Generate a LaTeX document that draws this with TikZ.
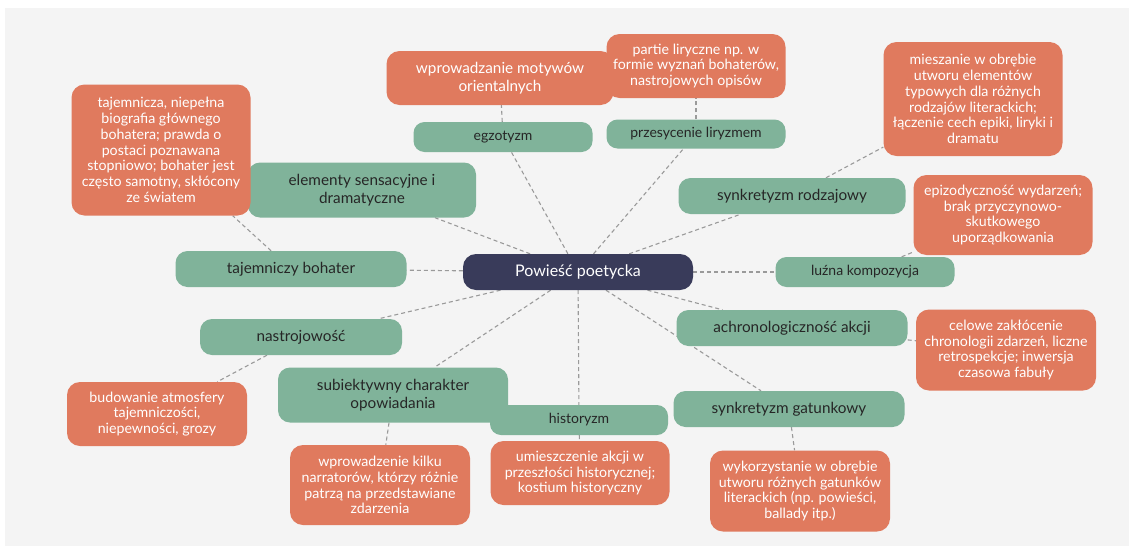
\documentclass[tikz,border=0pt]{standalone}
\usepackage{fontspec}
\setmainfont{Lato}
\usepackage{tikz}
\usepackage{xcolor}
\usetikzlibrary{positioning}
\definecolor{bgcol}{HTML}{F4F4F4}
\definecolor{greencol}{HTML}{80B39A}
\definecolor{orangecol}{HTML}{E07A5E}
\definecolor{navycol}{HTML}{393B5A}
\definecolor{textdark}{HTML}{262626}
\definecolor{linecol}{HTML}{9A9A9A}
\pgfdeclarelayer{background}
\pgfsetlayers{background,main}

\begin{document}
\begin{tikzpicture}[x=1pt,y=1pt]
\tikzstyle{every node}+=[inner sep=0pt, align=center]
\tikzstyle{topic}=[fill=navycol, text=white, rounded corners=13pt, font=\fontsize{16}{19}\selectfont]
\tikzstyle{feature}=[fill=greencol, text=textdark, rounded corners=12pt, font=\fontsize{15.3}{18.3}\selectfont]
\tikzstyle{smallfeature}=[feature, rounded corners=11pt, font=\fontsize{14}{16}\selectfont]
\tikzstyle{detail}=[fill=orangecol, text=white, rounded corners=13pt, font=\fontsize{14.2}{15.8}\selectfont]
\tikzstyle{link}=[draw=linecol, line width=1.1pt, dash pattern=on 4pt off 3pt]
\useasboundingbox (0,0) rectangle (1129,-546);
\begin{pgfonlayer}{background}
\fill [bgcol] (5,-8) rectangle (1129,-546);
\end{pgfonlayer}
% main topic
\node [topic, minimum width=230, minimum height=36] (poem) at (578,-272) {Powieść poetycka};
% features
\node [smallfeature, minimum width=179, minimum height=30] (exot) at (503,-137) {egzotyzm};
\node [smallfeature, minimum width=179, minimum height=29] (lyric) at (696,-134) {przesycenie liryzmem};
\node [feature, minimum width=228, minimum height=55] (sensa) at (362,-190) {elementy sensacyjne i\\dramatyczne};
\node [feature, minimum width=227, minimum height=36] (genre) at (792,-196) {synkretyzm rodzajowy};
\node [feature, minimum width=231, minimum height=36] (hero) at (291,-269) {tajemniczy bohater};
\node [smallfeature, minimum width=179, minimum height=30] (loose) at (865,-272) {luźna kompozycja};
\node [feature, minimum width=202, minimum height=36] (mood) at (301,-337) {nastrojowość};
\node [feature, minimum width=231, minimum height=36] (achron) at (792,-328) {achronologiczność akcji};
\node [feature, minimum width=230, minimum height=55] (subj) at (393,-395) {subiektywny charakter\\opowiadania};
\node [smallfeature, minimum width=178, minimum height=30] (hist) at (579,-420) {historyzm};
\node [feature, minimum width=231, minimum height=36] (kind) at (789,-409) {synkretyzm gatunkowy};
% details
\node [detail, font=\fontsize{15.3}{18.3}\selectfont, minimum width=227, minimum height=54] (exotd) at (500,-78) {wprowadzanie motywów\\orientalnych};
\node [detail, minimum width=179, minimum height=64] (lyricd) at (696,-66) {partie liryczne np. w\\formie wyznań bohaterów,\\nastrojowych opisów};
\node [detail, minimum width=179, minimum height=131] (herod) at (161,-150) {tajemnicza, niepełna\\biografia głównego\\bohatera; prawda o\\postaci poznawana\\stopniowo; bohater jest\\często samotny, skłócony\\ze światem};
\node [detail, minimum width=179, minimum height=114] (genred) at (973,-99) {mieszanie w obrębie\\utworu elementów\\typowych dla różnych\\rodzajów literackich;\\łączenie cech epiki, liryki i\\dramatu};
\node [detail, minimum width=179, minimum height=80] (loosed) at (1003,-215) {epizodyczność wydarzeń;\\brak przyczynowo-\\skutkowego\\uporządkowania};
\node [detail, minimum width=180, minimum height=81] (achrond) at (1006,-350) {celowe zakłócenie\\chronologii zdarzeń, liczne\\retrospekcje; inwersja\\czasowa fabuły};
\node [detail, minimum width=180, minimum height=64] (moodd) at (157,-414) {budowanie atmosfery\\tajemniczości,\\niepewności, grozy};
\node [detail, minimum width=180, minimum height=80] (subjd) at (380,-485) {wprowadzenie kilku\\narratorów, którzy różnie\\patrzą na przedstawiane\\zdarzenia};
\node [detail, minimum width=179, minimum height=64] (histd) at (580,-473) {umieszczenie akcji w\\przeszłości historycznej;\\kostium historyczny};
\node [detail, minimum width=180, minimum height=81] (kindd) at (800,-491) {wykorzystanie w obrębie\\utworu różnych gatunków\\literackich (np. powieści,\\ballady itp.)};
% connectors
\begin{pgfonlayer}{background}
\foreach \f in {exot,lyric,sensa,genre,hero,loose,mood,achron,subj,hist,kind}
  \draw [link] (poem) -- (\f);
\draw [link] (exot) -- (exotd);
\draw [link] (lyric) -- (lyricd);
\draw [link] (hero) -- (herod);
\draw [link] (genre) -- (genred);
\draw [link] (loose) -- (loosed);
\draw [link] (achron) -- (achrond);
\draw [link] (mood) -- (moodd);
\draw [link] (subj) -- (subjd);
\draw [link] (hist) -- (histd);
\draw [link] (kind) -- (kindd);
\end{pgfonlayer}
\end{tikzpicture}
\end{document}
